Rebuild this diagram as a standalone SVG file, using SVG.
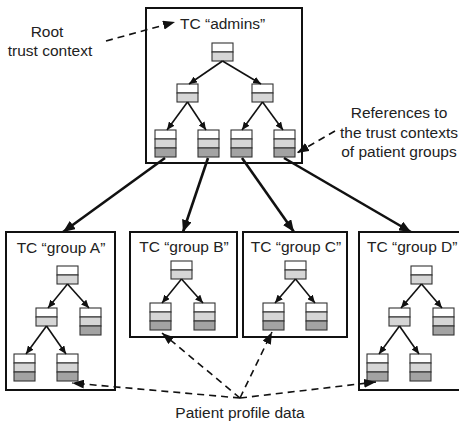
<svg xmlns="http://www.w3.org/2000/svg" xmlns:xlink="http://www.w3.org/1999/xlink" width="459" height="423" viewBox="0 0 459 423">
<style>
text{font-family:"Liberation Sans",Arial,sans-serif;font-size:15.5px;fill:#222}
.box{fill:none;stroke:#111;stroke-width:2}
.cell{stroke:#333;stroke-width:1.1}
.w{fill:#fff}.l{fill:#d6d6d6}.d{fill:#a3a3a3}
.tree{stroke:#111;stroke-width:1.6;fill:none;marker-end:url(#sm)}
.thick{stroke:#111;stroke-width:2.6;fill:none;marker-end:url(#big)}
.dash{stroke:#111;stroke-width:1.6;fill:none;stroke-dasharray:7 5;marker-end:url(#dh)}
</style>
<defs>
<marker id="sm" markerUnits="userSpaceOnUse" markerWidth="8" markerHeight="7" refX="8" refY="3.5" orient="auto"><path d="M0,0 L8,3.5 L0,7 z" fill="#111"/></marker>
<marker id="big" markerUnits="userSpaceOnUse" markerWidth="12" markerHeight="10" refX="12" refY="5" orient="auto"><path d="M0,0 L12,5 L0,10 z" fill="#111"/></marker>
<marker id="dh" markerUnits="userSpaceOnUse" markerWidth="12" markerHeight="9" refX="12" refY="4.5" orient="auto"><path d="M0,0 L12,4.5 L0,9 z" fill="#111"/></marker>
<g id="n2"><rect class="cell w" x="0" y="0" width="21" height="9"/><rect class="cell l" x="0" y="9" width="21" height="9"/></g>
<g id="n3"><rect class="cell w" x="0" y="0" width="21" height="9"/><rect class="cell l" x="0" y="9" width="21" height="9"/><rect class="cell d" x="0" y="18" width="21" height="9"/></g>
</defs>

<g id="labels">
<text x="47" y="37" text-anchor="middle">Root</text>
<text x="50" y="56" text-anchor="middle">trust context</text>
<text x="399" y="118" text-anchor="middle">References to</text>
<text x="399" y="138" text-anchor="middle">the trust contexts</text>
<text x="399" y="157" text-anchor="middle">of patient groups</text>
<text x="240" y="418" text-anchor="middle">Patient profile data</text>
</g>

<g id="tc-admins">
<rect class="box" x="146" y="8" width="156" height="155"/>
<text x="180" y="29">TC “admins”</text>
<g id="admins-root" transform="translate(212,43)"><use href="#n2" xlink:href="#n2"/></g>
<g id="admins-l" transform="translate(177,84)"><use href="#n2" xlink:href="#n2"/></g>
<g id="admins-r" transform="translate(252,84)"><use href="#n2" xlink:href="#n2"/></g>
<g id="admins-ref-a" transform="translate(155,130)"><use href="#n3" xlink:href="#n3"/></g>
<g id="admins-ref-b" transform="translate(198,130)"><use href="#n3" xlink:href="#n3"/></g>
<g id="admins-ref-c" transform="translate(231,130)"><use href="#n3" xlink:href="#n3"/></g>
<g id="admins-ref-d" transform="translate(274,130)"><use href="#n3" xlink:href="#n3"/></g>
</g>

<g id="tc-group-a">
<rect class="box" x="6" y="232" width="109" height="158"/>
<text x="61" y="253" text-anchor="middle">TC “group A”</text>
<g id="a-root" transform="translate(57,266)"><use href="#n2" xlink:href="#n2"/></g>
<g id="a-l" transform="translate(36,308)"><use href="#n2" xlink:href="#n2"/></g>
<g id="a-r" transform="translate(80,308)"><use href="#n3" xlink:href="#n3"/></g>
<g id="a-ll" transform="translate(14,354)"><use href="#n3" xlink:href="#n3"/></g>
<g id="a-lr" transform="translate(57,354)"><use href="#n3" xlink:href="#n3"/></g>
</g>

<g id="tc-group-b">
<rect class="box" x="130" y="232" width="107" height="105"/>
<text x="184" y="252" text-anchor="middle">TC “group B”</text>
<g id="b-root" transform="translate(171,261)"><use href="#n2" xlink:href="#n2"/></g>
<g id="b-l" transform="translate(150,303)"><use href="#n3" xlink:href="#n3"/></g>
<g id="b-r" transform="translate(194,303)"><use href="#n3" xlink:href="#n3"/></g>
</g>

<g id="tc-group-c">
<rect class="box" x="243" y="232" width="104" height="105"/>
<text x="296" y="252" text-anchor="middle">TC “group C”</text>
<g id="c-root" transform="translate(285,261)"><use href="#n2" xlink:href="#n2"/></g>
<g id="c-l" transform="translate(263,303)"><use href="#n3" xlink:href="#n3"/></g>
<g id="c-r" transform="translate(306,303)"><use href="#n3" xlink:href="#n3"/></g>
</g>

<g id="tc-group-d">
<rect class="box" x="359" y="232" width="108" height="158"/>
<text x="367" y="252">TC “group D”</text>
<g id="d-root" transform="translate(411,266)"><use href="#n2" xlink:href="#n2"/></g>
<g id="d-l" transform="translate(389,308)"><use href="#n2" xlink:href="#n2"/></g>
<g id="d-r" transform="translate(433,308)"><use href="#n3" xlink:href="#n3"/></g>
<g id="d-ll" transform="translate(367,354)"><use href="#n3" xlink:href="#n3"/></g>
<g id="d-lr" transform="translate(410,354)"><use href="#n3" xlink:href="#n3"/></g>
</g>

<g id="connectors">
<path class="tree" d="M222.5,61 L189,84"/>
<path class="tree" d="M222.5,61 L261,84"/>
<path class="tree" d="M187.5,102 L167,130"/>
<path class="tree" d="M187.5,102 L206,130"/>
<path class="tree" d="M262.5,102 L242,130"/>
<path class="tree" d="M262.5,102 L283,130"/>
<path class="tree" d="M67.5,284 L48,308"/>
<path class="tree" d="M67.5,284 L89,308"/>
<path class="tree" d="M46.5,326 L26,354"/>
<path class="tree" d="M46.5,326 L66,354"/>
<path class="tree" d="M181.5,279 L162,303"/>
<path class="tree" d="M181.5,279 L203,303"/>
<path class="tree" d="M295.5,279 L275,303"/>
<path class="tree" d="M295.5,279 L315,303"/>
<path class="tree" d="M421.5,284 L401,308"/>
<path class="tree" d="M421.5,284 L442,308"/>
<path class="tree" d="M399.5,326 L379,354"/>
<path class="tree" d="M399.5,326 L419,354"/>
<path class="thick" d="M165,158 L63,232"/>
<path class="thick" d="M208,158 L183,232"/>
<path class="thick" d="M242,158 L294,232"/>
<path class="thick" d="M284,158 L411,232"/>
<path class="dash" d="M106,41 L175,22"/>
<path class="dash" d="M335,131 L297,153"/>
<path class="dash" d="M240,398 L72,383"/>
<path class="dash" d="M240,398 L162,333"/>
<path class="dash" d="M240,398 L272,332"/>
<path class="dash" d="M240,398 L376,382"/>
</g>
</svg>
